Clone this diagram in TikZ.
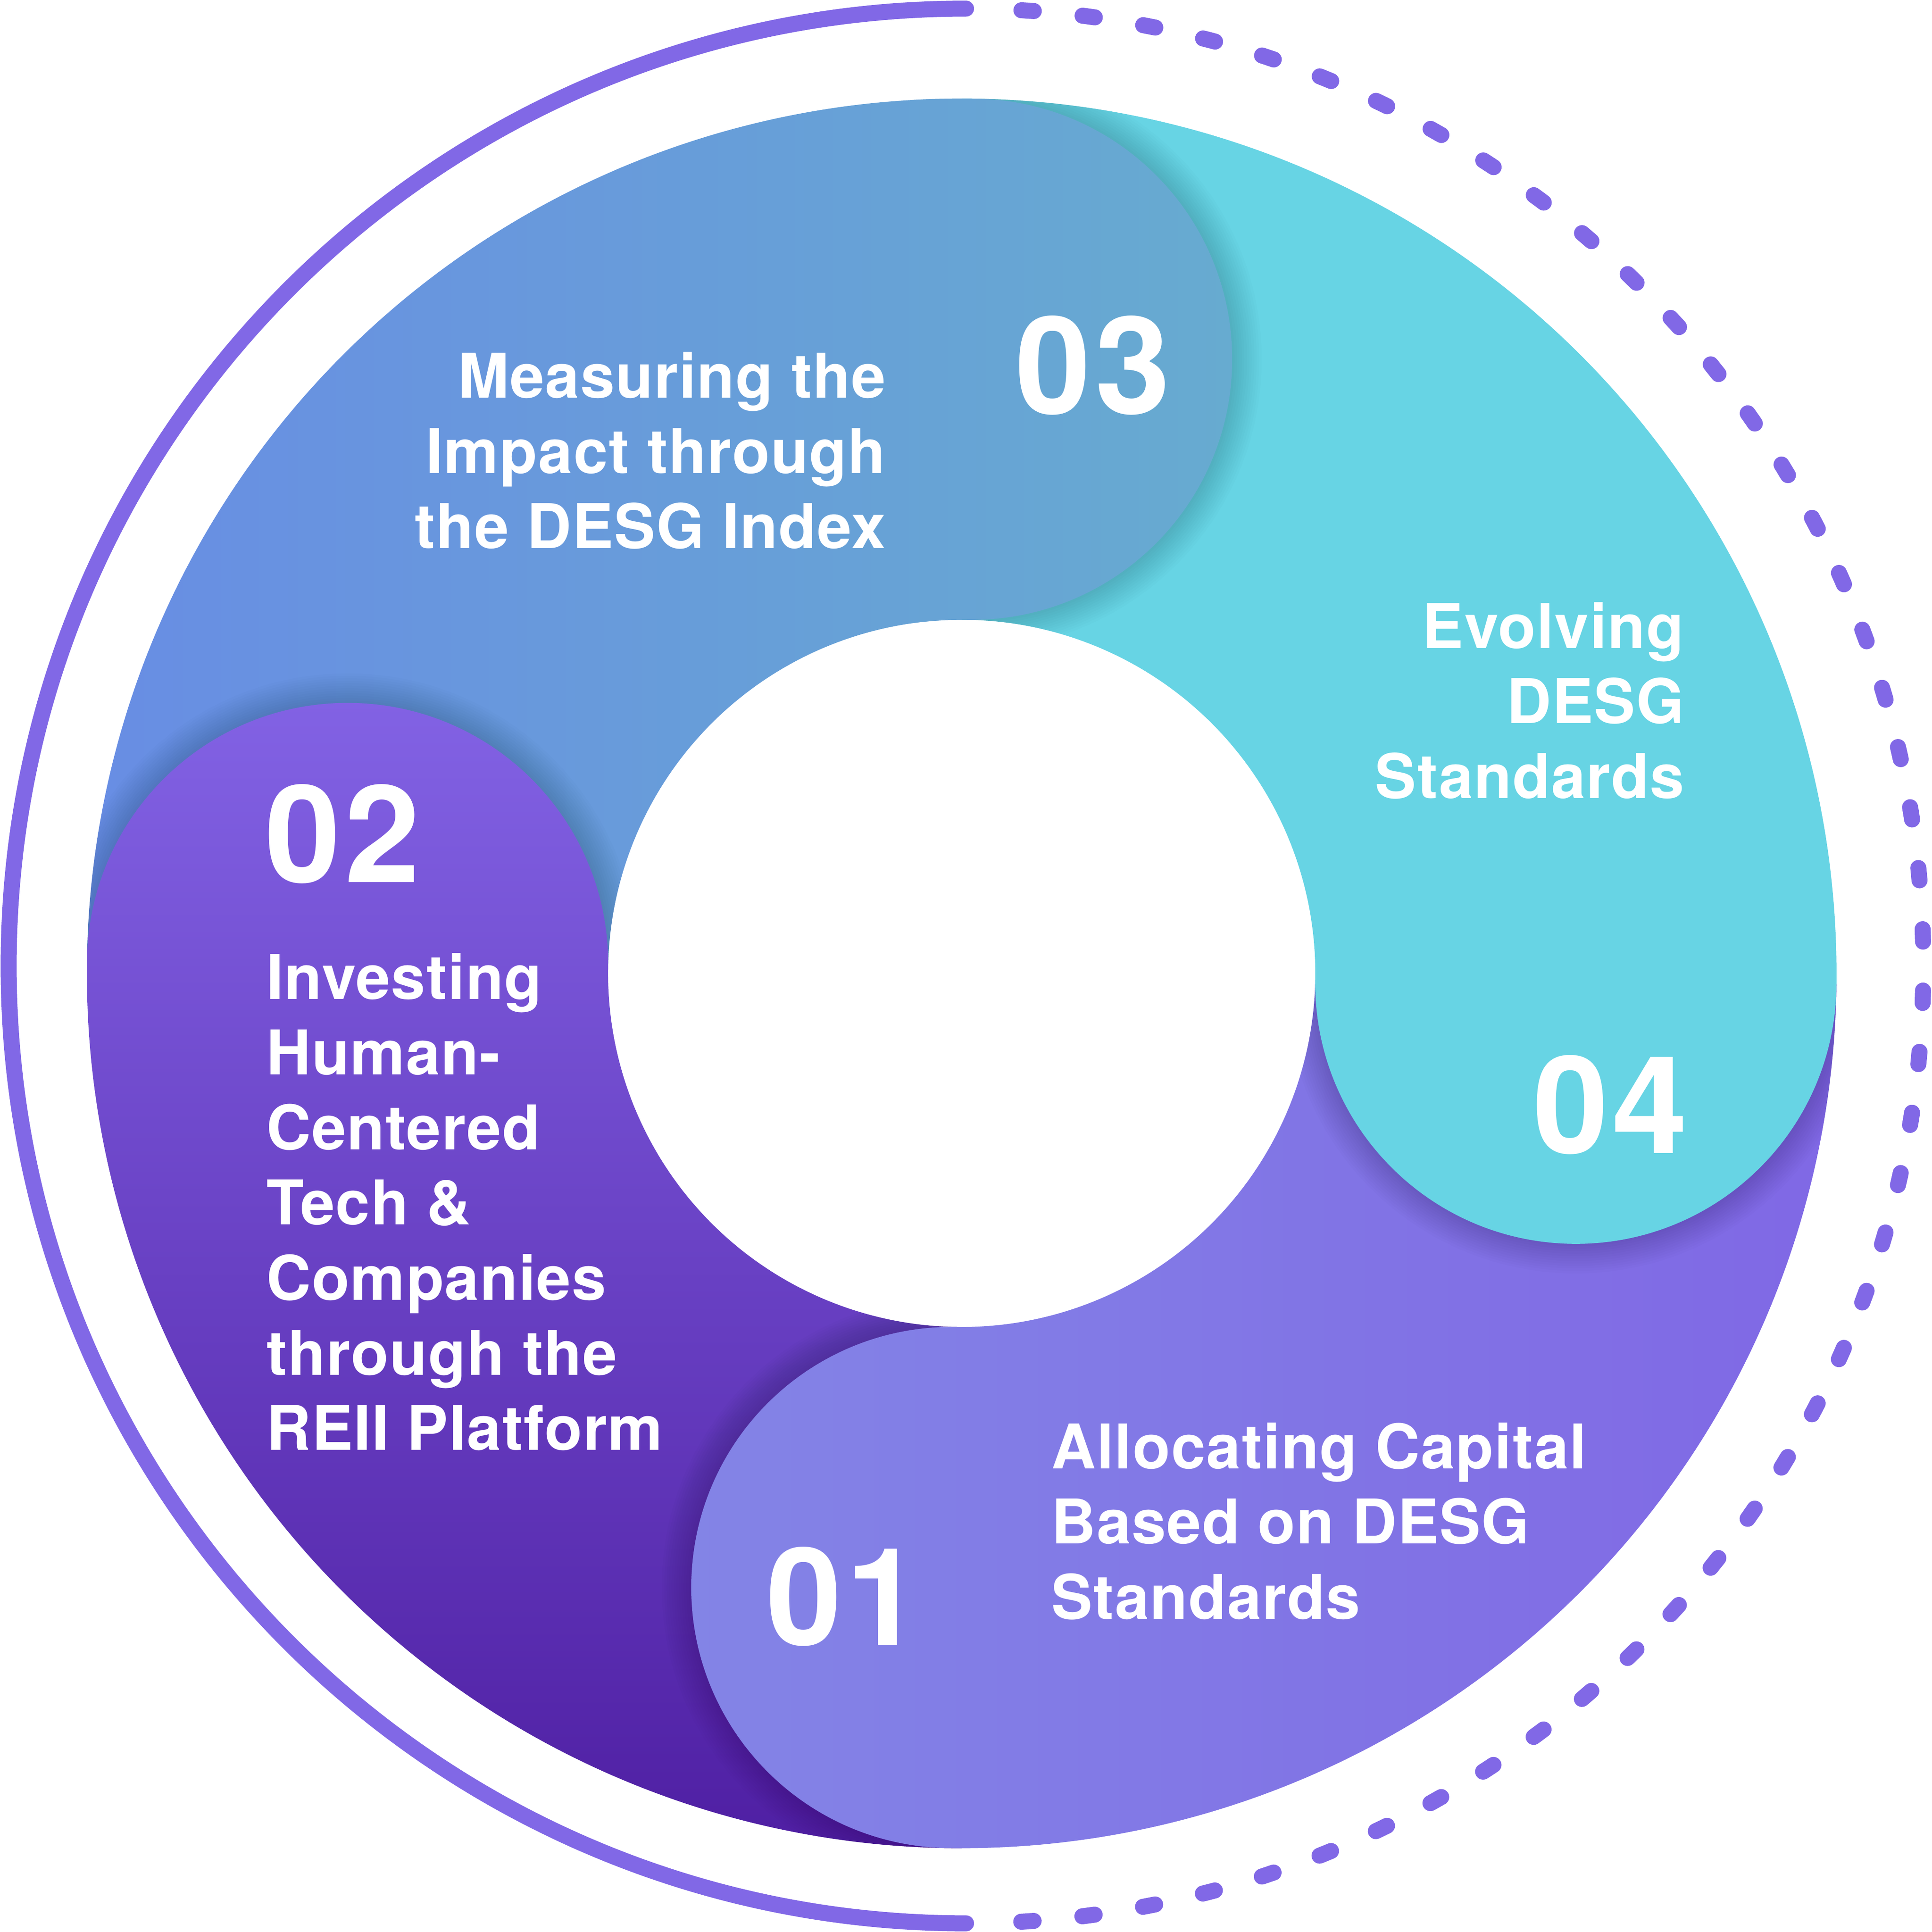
\documentclass[tikz,border=0pt]{standalone}
\usepackage{fontspec}
\setmainfont{TeX Gyre Heros}
\newfontfamily\stepfont[LetterSpace=1.5]{TeX Gyre Heros}
\newfontfamily\numfont[LetterSpace=3]{TeX Gyre Heros}
\usetikzlibrary{calc}
\definecolor{ringviolet}{RGB}{129,104,230}
\definecolor{indexblue}{RGB}{104,141,228}
\definecolor{indexteal}{RGB}{103,171,208}
\definecolor{evolvecyan}{RGB}{103,212,228}
\definecolor{capitallilac}{RGB}{131,132,230}
\definecolor{capitalviolet}{RGB}{128,104,229}
\definecolor{investviolet}{RGB}{130,98,228}
\definecolor{investdeep}{RGB}{79,31,163}

% disc centre and radii
\def\cx{780.5}
\def\cy{778}
\def\bigR{710}
\def\holeR{287}
\def\midR{498.5}
\def\capR{211.5}
\def\tilt{0.92}

% one quarter of the ring, with its round head
\newcommand{\segpath}[1]{({\cx+\holeR*cos(#1)},{\cy+\holeR*sin(#1)}) -- ({\cx+\bigR*cos(#1)},{\cy+\bigR*sin(#1)})
  arc[start angle=#1, end angle=#1-90-\tilt, radius=\bigR]
  arc[start angle=#1-90-\tilt, delta angle=-180, radius=\capR]
  arc[start angle=#1-90-\tilt, end angle=#1, radius=\holeR] -- cycle}

% soft shadow of a head, kept on the next quarter
\newcommand{\capshadow}[1]{
  \begin{scope}
    \clip ({\cx+\holeR*cos(#1-90)},{\cy+\holeR*sin(#1-90)}) -- ({\cx+\bigR*cos(#1-90)},{\cy+\bigR*sin(#1-90)})
      arc[start angle=#1-90, end angle=#1-180, radius=\bigR]
      -- ({\cx+\holeR*cos(#1-180)},{\cy+\holeR*sin(#1-180)})
      arc[start angle=#1-180, end angle=#1-90, radius=\holeR] -- cycle;
    \foreach \k in {1,...,12}
      \fill[black, opacity=0.011] ({\cx+\midR*cos(#1-90-\tilt)},{\cy+\midR*sin(#1-90-\tilt)}) circle ({\capR+2*\k});
  \end{scope}
}

\tikzset{
  steptext/.style={text=white, inner sep=0pt, font=\stepfont\bfseries\fontsize{50}{61}\selectfont},
  stepnum/.style={text=white, inner sep=0pt, font=\numfont\bfseries\fontsize{110}{110}\selectfont}
}

\begin{document}
\begin{tikzpicture}[x=1pt, y=1pt]
\useasboundingbox (0,0) rectangle (1568,1568);

% outer ring, solid half
\draw[ringviolet, line width=13, line cap=round] (784,1561) arc[start angle=90, end angle=270, radius=777];
% outer ring, dotted half
\foreach \j in {0,...,47} {
  \pgfmathsetmacro\ang{86.31-3.673*\j}
  \draw[ringviolet, line width=13, line cap=round] ({784+777*cos(\ang+0.37)},{784+777*sin(\ang+0.37)})
    arc[start angle=\ang+0.37, end angle=\ang-0.37, radius=777];
}

% 03 quarter
\shade[left color=indexblue, right color=indexteal] \segpath{180};

% 02 quarter
\capshadow{-90}
\shade[top color=investviolet, bottom color=investdeep] \segpath{-90};

% 01 quarter
\capshadow{0}
\shade[left color=capitallilac, right color=capitalviolet] \segpath{0};

% 04 quarter
\capshadow{90}
\fill[evolvecyan] \segpath{90};

% 03 head laid over 04
\capshadow{180}
\begin{scope}
  \clip (\cx-40,\cy) rectangle (1568,1568);
  \shade[left color=indexblue, right color=indexteal] \segpath{180};
\end{scope}

% numbers
\node[stepnum, anchor=base west] (num03) at (824,1232) {03};
\node[stepnum, anchor=base east] (num04) at (1370,632) {04};
\node[stepnum, anchor=base west] (num02) at (215,852) {02};
\node[stepnum, anchor=base west] (num01) at (622,233) {01};

% texts (base = last line)
\node[steptext, align=right, anchor=base east] (txt03) at (719,1123) {Measuring the\\Impact through\\the DESG Index};
\node[steptext, align=right, anchor=base east] (txt04) at (1367,920) {Evolving\\DESG\\Standards};
\node[steptext, align=left, anchor=base west] (txt02) at (216,391) {Investing\\Human-\\Centered\\Tech \&\\Companies\\through the\\REII Platform};
\node[steptext, align=left, anchor=base west] (txt01) at (853,254) {Allocating Capital\\Based on DESG\\Standards};
\end{tikzpicture}
\end{document}
